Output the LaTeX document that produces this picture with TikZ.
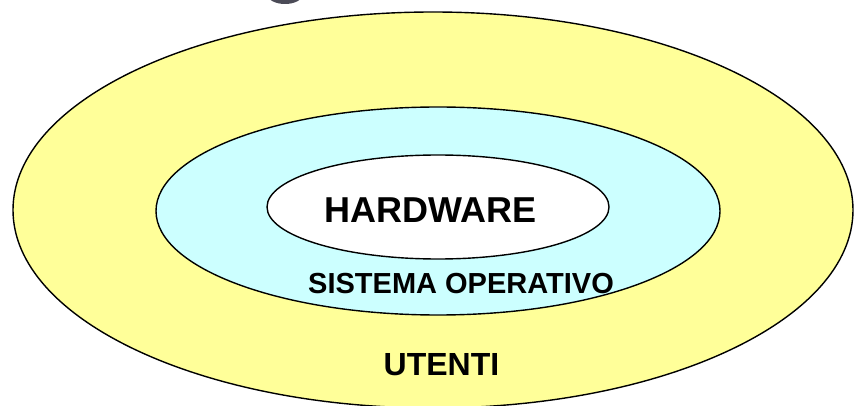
\documentclass[tikz,border=0pt]{standalone}
\usepackage{fontspec}
\setmainfont{Liberation Sans}
\definecolor{users}{HTML}{FFFF99}
\definecolor{os}{HTML}{CCFFFF}
\definecolor{titlegrey}{HTML}{4B4B57}
\begin{document}
\begin{tikzpicture}[x=1pt,y=-1pt,
  ring/.style={draw=black,line width=1.4pt},
  label/.style={inner sep=0pt,anchor=base,font=\bfseries}]
\useasboundingbox (0,0) rectangle (854,406);
\begin{scope}
  \clip (0,0) rectangle (854,406);
  % tail of the heading glyph above the rings
  \fill[titlegrey] (285,-6) ellipse [x radius=18, y radius=10];
  % users: outer ring
  \draw[ring,fill=users] (433,210) ellipse [x radius=420, y radius=198];
  % operating system: middle ring
  \draw[ring,fill=os] (438,211) ellipse [x radius=282, y radius=104];
  % hardware: core
  \draw[ring,fill=white] (438,207) ellipse [x radius=171, y radius=52];
\end{scope}
\node[label,font=\bfseries\fontsize{36}{40}\selectfont] (hw) at (430.5,223) {HARDWARE};
\node[label,font=\bfseries\fontsize{29}{33}\selectfont] (so) at (461,293) {SISTEMA OPERATIVO};
\node[label,font=\bfseries\fontsize{32}{36}\selectfont] (ut) at (441.5,375) {UTENTI};
\end{tikzpicture}
\end{document}
